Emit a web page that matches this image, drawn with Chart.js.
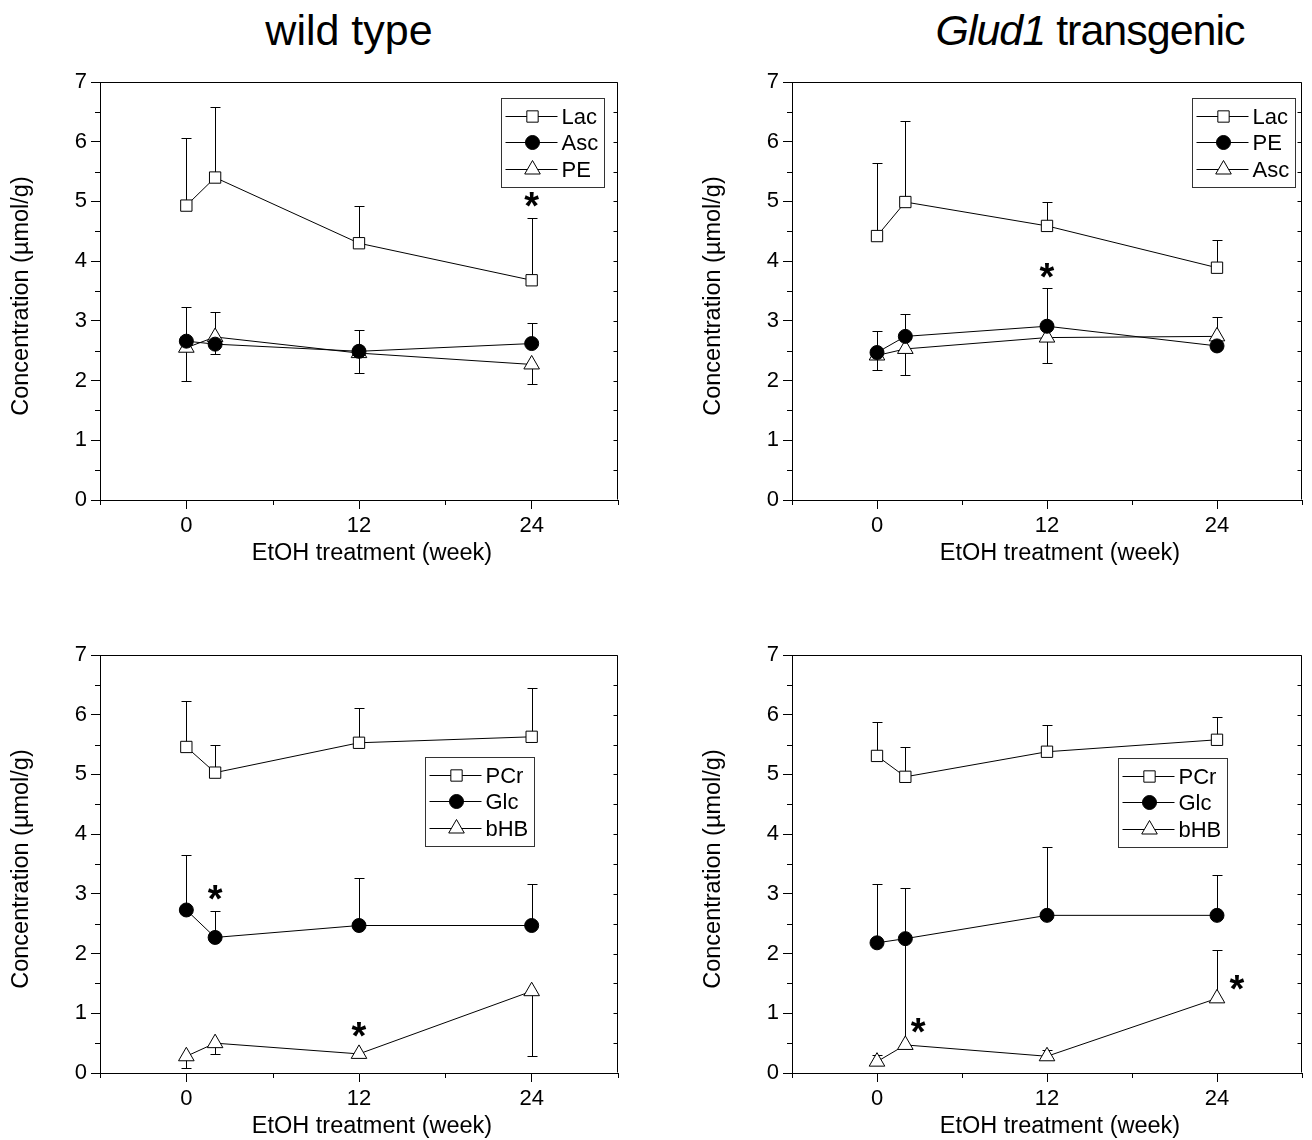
<!DOCTYPE html>
<html>
<head>
<meta charset="utf-8" />
<title>EtOH treatment - wild type vs Glud1 transgenic</title>
<script src="https://cdn.jsdelivr.net/npm/chart.js"></script>
<style>
  body { margin: 0; width: 1312px; height: 1140px; overflow: hidden; background: #fff; position: relative;
         font-family: "Liberation Sans", Arial, sans-serif; color: #000; }
  .title { position: absolute; top: 6px; font-size: 43px; transform: translateX(-50%); white-space: nowrap; }
  canvas { position: absolute; }
</style>
</head>
<body>
<div class="title" style="left:349px">wild type</div>
<div class="title" style="left:1090px;letter-spacing:-1px"><i>Glud1</i> transgenic</div>

<canvas id="wtTop" width="640" height="520" style="left:0;top:60px"></canvas>
<canvas id="tgTop" width="620" height="520" style="left:692px;top:60px"></canvas>
<canvas id="wtLow" width="640" height="520" style="left:0;top:633px"></canvas>
<canvas id="tgLow" width="620" height="520" style="left:692px;top:633px"></canvas>

<script>
// axes
const weeks = [0, 2, 12, 24];
const xTickVals = [0, 12, 24];
const xMinorVals = [-6, 6, 18, 30];
const yTickVals = [0, 1, 2, 3, 4, 5, 6, 7];
const yMinorVals = [0.5, 1.5, 2.5, 3.5, 4.5, 5.5, 6.5];
const xTitle = 'EtOH treatment (week)';
const yTitle = 'Concentration (µmol/g)';

// wild type, upper panel
const wtLac = [4.93, 5.40, 4.30, 3.68];
const wtLacUp = [6.07, 6.58, 4.92, 4.73];
const wtAsc = [2.66, 2.61, 2.49, 2.62];
const wtAscUp = [3.23, 3.15, 2.85, 2.96];
const wtPE = [2.55, 2.73, 2.46, 2.27];
const wtPELow = [2.00, 2.44, 2.12, 1.94];
const wtTopStars = [[24, 5.06]];

// Glud1 transgenic, upper panel
const tgLac = [4.42, 4.99, 4.59, 3.89];
const tgLacUp = [5.65, 6.35, 4.99, 4.35];
const tgPE = [2.47, 2.74, 2.91, 2.58];
const tgPEUp = [2.83, 3.11, 3.55, null];
const tgAsc = [2.42, 2.53, 2.72, 2.74];
const tgAscUp = [null, null, null, 3.07];
const tgAscLow = [2.18, 2.10, 2.29, null];
const tgTopStars = [[12, 3.88]];

// wild type, lower panel
const wtPCr = [5.46, 5.03, 5.53, 5.63];
const wtPCrUp = [6.23, 5.50, 6.12, 6.45];
const wtGlc = [2.73, 2.27, 2.47, 2.47];
const wtGlcUp = [3.65, 2.71, 3.26, 3.17];
const wtBHB = [0.28, 0.50, 0.32, 1.37];
const wtBHBLow = [0.08, 0.31, 0.27, 0.28];
const wtLowStars = [[2, 3.05], [12, 0.76]];

// Glud1 transgenic, lower panel
const tgPCr = [5.31, 4.96, 5.38, 5.58];
const tgPCrUp = [5.87, 5.46, 5.82, 5.97];
const tgGlc = [2.18, 2.25, 2.64, 2.64];
const tgGlcUp = [3.17, 3.10, 3.78, 3.31];
const tgBHB = [0.19, 0.47, 0.28, 1.25];
const tgBHBUp = [0.30, 2.25, 0.39, 2.06];
const tgLowStars = [[2.9, 0.82], [25.4, 1.55]];

const FONT = '"Liberation Sans", Arial, sans-serif';
const markers = {
  square:   { pointStyle: 'rect',     pointRadius: 8,   pointBackgroundColor: '#fff' },
  circle:   { pointStyle: 'circle',   pointRadius: 7,   pointBackgroundColor: '#000' },
  triangle: { pointStyle: 'triangle', pointRadius: 9,   pointBackgroundColor: '#fff' }
};

// error bars drawn under the lines and symbols
const errorBars = {
  id: 'errorBars',
  beforeDatasetsDraw(chart) {
    const ctx = chart.ctx, xs = chart.scales.x, ys = chart.scales.y;
    ctx.save();
    ctx.strokeStyle = '#000';
    ctx.lineWidth = 1;
    chart.data.datasets.forEach(ds => {
      ds.data.forEach((p, i) => {
        const px = Math.round(xs.getPixelForValue(p.x)) + 0.5;
        const py = ys.getPixelForValue(p.y);
        [ds.errUp && ds.errUp[i], ds.errLow && ds.errLow[i]].forEach(e => {
          if (e == null) return;
          const ey = Math.round(ys.getPixelForValue(e)) + 0.5;
          ctx.beginPath();
          ctx.moveTo(px, py);
          ctx.lineTo(px, ey);
          ctx.moveTo(px - 5, ey);
          ctx.lineTo(px + 5, ey);
          ctx.stroke();
        });
      });
    });
    ctx.restore();
  }
};

// top/right frame, minor ticks and the two axis titles
const frame = {
  id: 'frame',
  beforeDatasetsDraw(chart) {
    const ctx = chart.ctx, a = chart.chartArea, xs = chart.scales.x, ys = chart.scales.y;
    ctx.save();
    ctx.strokeStyle = '#000';
    ctx.lineWidth = 1;
    ctx.beginPath();
    const l = Math.round(a.left) + 0.5, r = Math.round(a.right) - 0.5;
    const t = Math.round(a.top) + 0.5, b = Math.round(a.bottom) - 0.5;
    ctx.moveTo(l, t); ctx.lineTo(r, t); ctx.lineTo(r, b);
    yMinorVals.forEach(v => {
      const y = Math.round(ys.getPixelForValue(v)) + 0.5;
      ctx.moveTo(a.left - 5, y); ctx.lineTo(a.left, y);
    });
    yMinorVals.concat(yTickVals).forEach(v => {
      const y = Math.round(ys.getPixelForValue(v)) + 0.5;
      ctx.moveTo(r, y); ctx.lineTo(r - 4, y);
    });
    xMinorVals.forEach(v => {
      const x = Math.round(xs.getPixelForValue(v)) + 0.5;
      ctx.moveTo(x, a.bottom); ctx.lineTo(x, a.bottom + 5);
    });
    ctx.stroke();

    ctx.fillStyle = '#000';
    ctx.font = '23.5px ' + FONT;
    ctx.textAlign = 'center';
    ctx.textBaseline = 'middle';
    ctx.fillText(xTitle, (a.left + a.right) / 2 + 13, a.bottom + 54);
    ctx.translate(22, (a.top + a.bottom) / 2 + 5);
    ctx.rotate(-Math.PI / 2);
    ctx.fillText(yTitle, 0, 0);
    ctx.restore();
  }
};

// boxed legend with line + symbol samples
const boxLegend = {
  id: 'boxLegend',
  afterDraw(chart, args, opts) {
    const ctx = chart.ctx, a = chart.chartArea;
    const x0 = Math.round(a.left + opts.dx) + 0.5, y0 = Math.round(a.top + opts.dy) + 0.5;
    ctx.save();
    ctx.font = '22px ' + FONT;
    const sets = chart.data.datasets;
    const textW = Math.max(...sets.map(d => ctx.measureText(d.label).width));
    const w = Math.round(61 + textW + 5), h = 89;
    ctx.fillStyle = '#fff';
    ctx.fillRect(x0, y0, w, h);
    ctx.strokeStyle = '#333';
    ctx.lineWidth = 1;
    ctx.strokeRect(x0, y0, w, h);
    sets.forEach((d, i) => {
      const cy = Math.round(y0 + 17 + i * 26.5) + 0.5;
      ctx.strokeStyle = '#000';
      ctx.beginPath();
      ctx.moveTo(x0 + 4, cy);
      ctx.lineTo(x0 + 56, cy);
      ctx.stroke();
      ctx.fillStyle = d.pointBackgroundColor;
      Chart.helpers.drawPoint(ctx, { pointStyle: d.pointStyle, radius: d.pointRadius, borderWidth: 1, rotation: 0 }, x0 + 31, cy);
      ctx.fillStyle = '#000';
      ctx.textBaseline = 'middle';
      ctx.textAlign = 'left';
      ctx.fillText(d.label, x0 + 60, cy + 1);
    });
    ctx.restore();
  }
};

// significance asterisks
const stars = {
  id: 'stars',
  afterDatasetsDraw(chart, args, opts) {
    const ctx = chart.ctx, xs = chart.scales.x, ys = chart.scales.y;
    const size = 38;
    ctx.save();
    ctx.font = 'bold ' + size + 'px ' + FONT;
    ctx.fillStyle = '#000';
    ctx.textAlign = 'center';
    ctx.textBaseline = 'alphabetic';
    (opts.points || []).forEach(([x, y]) => {
      ctx.fillText('*', xs.getPixelForValue(x), ys.getPixelForValue(y) + 0.56 * size);
    });
    ctx.restore();
  }
};

function axis(extra) {
  return Object.assign({
    type: 'linear',
    grid: { drawOnChartArea: false, drawTicks: true, tickLength: 9, color: '#000', tickColor: '#000', lineWidth: 1 },
    border: { display: true, color: '#000', width: 1 },
    ticks: { color: '#000', font: { family: FONT, size: 22 }, padding: 4 },
    title: { display: false }
  }, extra);
}

function makePanel(id, series, legendPos, starPoints) {
  const datasets = series.map(s => Object.assign({
    label: s.label,
    data: weeks.map((w, i) => ({ x: w, y: s.values[i] })),
    errUp: s.up || null,
    errLow: s.low || null,
    borderColor: '#000',
    borderWidth: 1,
    pointBorderColor: '#000',
    pointBorderWidth: 1,
    tension: 0,
    fill: false
  }, markers[s.marker]));

  new Chart(document.getElementById(id), {
    type: 'line',
    data: { datasets },
    options: {
      responsive: false,
      animation: false,
      devicePixelRatio: 1,
      layout: { padding: { top: 22, right: id.startsWith('tg') ? 2 : 22, left: 0, bottom: 0 } },
      scales: {
        x: axis({
          min: -6, max: 30,
          afterBuildTicks: sc => { sc.ticks = xTickVals.map(v => ({ value: v })); },
          afterFit: sc => { sc.height = 80; }
        }),
        y: axis({
          min: 0, max: 7,
          afterBuildTicks: sc => { sc.ticks = yTickVals.map(v => ({ value: v })); },
          afterFit: sc => { sc.width = 100; }
        })
      },
      plugins: {
        legend: { display: false },
        tooltip: { enabled: false },
        boxLegend: legendPos,
        stars: { points: starPoints }
      }
    },
    plugins: [frame, errorBars, stars, boxLegend]
  });
}

makePanel('wtTop', [
  { label: 'Lac', marker: 'square', values: wtLac, up: wtLacUp },
  { label: 'Asc', marker: 'circle', values: wtAsc, up: wtAscUp },
  { label: 'PE', marker: 'triangle', values: wtPE, low: wtPELow }
], { dx: 401, dy: 16 }, wtTopStars);

makePanel('tgTop', [
  { label: 'Lac', marker: 'square', values: tgLac, up: tgLacUp },
  { label: 'PE', marker: 'circle', values: tgPE, up: tgPEUp },
  { label: 'Asc', marker: 'triangle', values: tgAsc, up: tgAscUp, low: tgAscLow }
], { dx: 400, dy: 16 }, tgTopStars);

makePanel('wtLow', [
  { label: 'PCr', marker: 'square', values: wtPCr, up: wtPCrUp },
  { label: 'Glc', marker: 'circle', values: wtGlc, up: wtGlcUp },
  { label: 'bHB', marker: 'triangle', values: wtBHB, low: wtBHBLow }
], { dx: 325, dy: 102 }, wtLowStars);

makePanel('tgLow', [
  { label: 'PCr', marker: 'square', values: tgPCr, up: tgPCrUp },
  { label: 'Glc', marker: 'circle', values: tgGlc, up: tgGlcUp },
  { label: 'bHB', marker: 'triangle', values: tgBHB, up: tgBHBUp }
], { dx: 326, dy: 103 }, tgLowStars);
</script>
</body>
</html>
